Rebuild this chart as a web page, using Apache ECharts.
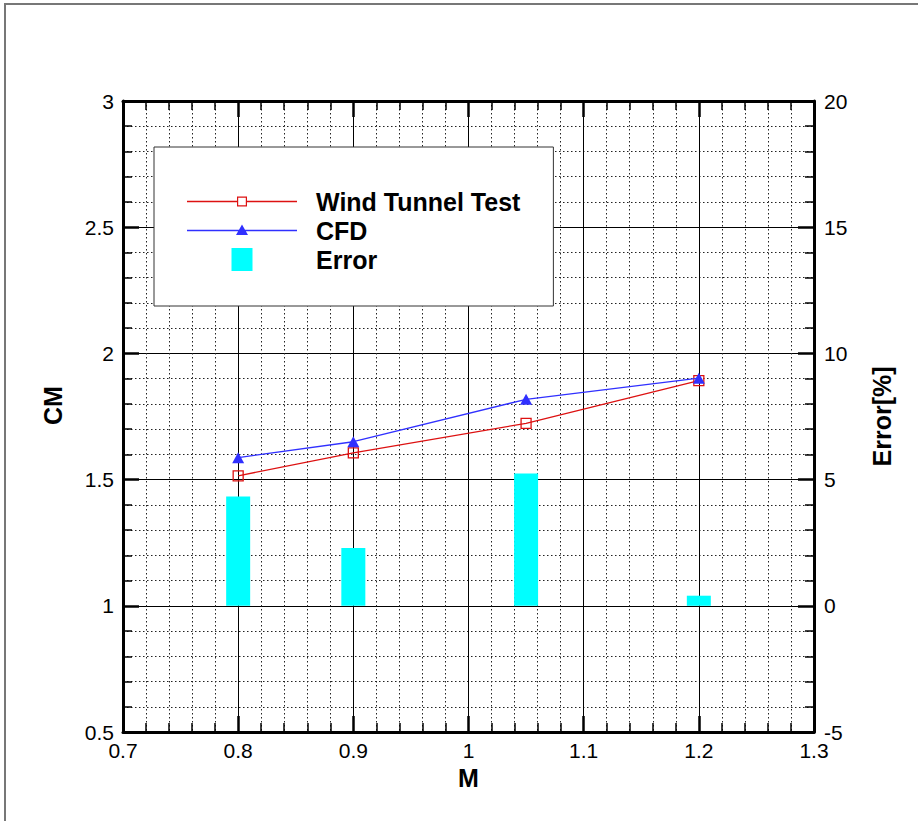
<!DOCTYPE html>
<html>
<head>
<meta charset="utf-8">
<script src="https://cdn.jsdelivr.net/npm/echarts@6/dist/echarts.min.js"></script>
<style>
html,body{margin:0;padding:0;background:#fff;}
#chart{width:918px;height:821px;}
</style>
</head>
<body>
<div id="chart"></div>
<script>
// ---- data ----
var machNumbers = [0.8, 0.9, 1.05, 1.2];
var windTunnelCM = [1.515, 1.606, 1.723, 1.892];
var cfdCM = [1.587, 1.650, 1.818, 1.902];
var errorPct = [4.33, 2.29, 5.24, 0.40];
var seriesNames = ['Wind Tunnel Test', 'CFD', 'Error'];
var xTitle = 'M';
var yTitle = 'CM';
var y2Title = 'Error[%]';

function pairs(xs, ys) { return xs.map(function (x, i) { return [x, ys[i]]; }); }

var RED = '#dd1111';
var BLUE = '#3030ff';
var CYAN = '#00ffff';
var FONT = '"Liberation Sans", Arial, sans-serif';

var chart = echarts.init(document.getElementById('chart'), null, { renderer: 'svg' });

var minorSplit = { show: true, lineStyle: { color: '#222', width: 1, type: [1.5, 2.5] } };
var majorSplit = { show: true, lineStyle: { color: '#000', width: 1 } };
var axLine = { show: true, onZero: false, lineStyle: { color: '#000', width: 3 } };
var majTick = { show: true, inside: true, length: 16, lineStyle: { color: '#000', width: 2.5 } };
var minTick = { show: true, splitNumber: 5, length: 9, lineStyle: { color: '#000', width: 1.5 } };
var lblStyle = { color: '#000', fontSize: 21, fontFamily: FONT };
var nameStyle = { color: '#000', fontSize: 25, fontWeight: 'bold', fontFamily: FONT };

var option = {
  animation: false,
  backgroundColor: '#fff',
  grid: { left: 123, right: 104, top: 101, bottom: 89, show: false },
  legend: {
    orient: 'vertical',
    left: 154, top: 147,
    backgroundColor: '#fff',
    borderColor: '#333', borderWidth: 1,
    padding: [42, 33, 34, 33],
    itemWidth: 124, itemHeight: 23, itemGap: 4,
    selectedMode: false,
    symbolKeepAspect: true,
    textStyle: { color: '#000', fontSize: 25, fontWeight: 'bold', fontFamily: FONT, lineHeight: 24 },
    data: [
      { name: seriesNames[0],
        icon: 'path://M0 0M124 23M0 10.8L50 10.8L50 12.2L0 12.2Z M60 10.8L110 10.8L110 12.2L60 12.2Z M50 6.5L60 6.5L60 16.5L50 16.5Z M51.2 7.7L51.2 15.3L58.8 15.3L58.8 7.7Z',
        itemStyle: { color: RED, borderWidth: 0 } },
      { name: seriesNames[1],
        icon: 'path://M0 0M124 23M0 10.8L110 10.8L110 12.2L0 12.2Z M55 5.5L61 16L49 16Z',
        itemStyle: { color: BLUE, borderWidth: 0 } },
      { name: seriesNames[2],
        icon: 'path://M0 0M124 23M44.5 0L65.5 0L65.5 23L44.5 23Z',
        itemStyle: { color: CYAN, borderWidth: 0 } }
    ]
  },
  xAxis: [
    {
      type: 'value', min: 0.7, max: 1.3, interval: 0.1, position: 'bottom',
      name: xTitle, nameLocation: 'middle', nameGap: 28, nameTextStyle: nameStyle,
      axisLine: axLine, axisTick: majTick,
      minorTick: minTick, minorSplitLine: minorSplit, splitLine: majorSplit,
      axisLabel: Object.assign({ margin: 8 }, lblStyle)
    },
    {
      type: 'value', min: 0.7, max: 1.3, interval: 0.1, position: 'top',
      axisLine: axLine, axisTick: majTick, minorTick: minTick,
      splitLine: { show: false }, axisLabel: { show: false }
    }
  ],
  yAxis: [
    {
      type: 'value', min: 0.5, max: 3, interval: 0.5, position: 'left',
      name: yTitle, nameLocation: 'middle', nameRotate: 90, nameGap: 58,
      nameTextStyle: Object.assign({ padding: [0, 0, 0, 22] }, nameStyle),
      axisLine: axLine, axisTick: majTick,
      minorTick: minTick, minorSplitLine: minorSplit, splitLine: majorSplit,
      axisLabel: Object.assign({ margin: 9 }, lblStyle)
    },
    {
      type: 'value', min: -5, max: 20, interval: 5, position: 'right',
      name: y2Title, nameLocation: 'middle', nameRotate: 90, nameGap: 55, nameTextStyle: nameStyle,
      axisLine: axLine, axisTick: majTick, minorTick: minTick,
      splitLine: { show: false },
      axisLabel: Object.assign({ margin: 10 }, lblStyle)
    }
  ],
  series: [
    {
      name: seriesNames[2], type: 'bar', xAxisIndex: 0, yAxisIndex: 1,
      barWidth: 24, itemStyle: { color: CYAN },
      data: pairs(machNumbers, errorPct), z: 1
    },
    {
      name: seriesNames[0], type: 'line', xAxisIndex: 0, yAxisIndex: 0,
      symbol: 'rect', symbolSize: 10,
      lineStyle: { color: RED, width: 1.3 },
      itemStyle: { color: 'rgba(0,0,0,0)', borderColor: RED, borderWidth: 1.3 },
      data: pairs(machNumbers, windTunnelCM), z: 3
    },
    {
      name: seriesNames[1], type: 'line', xAxisIndex: 0, yAxisIndex: 0,
      symbol: 'triangle', symbolSize: [12, 11],
      lineStyle: { color: BLUE, width: 1.3 },
      itemStyle: { color: BLUE },
      data: pairs(machNumbers, cfdCM), z: 4
    }
  ],
  graphic: [
    { type: 'line', shape: { x1: 5, y1: 3, x2: 5, y2: 821 }, style: { stroke: '#777', lineWidth: 2 }, silent: true },
    { type: 'line', shape: { x1: 4, y1: 4, x2: 918, y2: 4 }, style: { stroke: '#777', lineWidth: 2 }, silent: true }
  ]
};

chart.setOption(option);
</script>
</body>
</html>
